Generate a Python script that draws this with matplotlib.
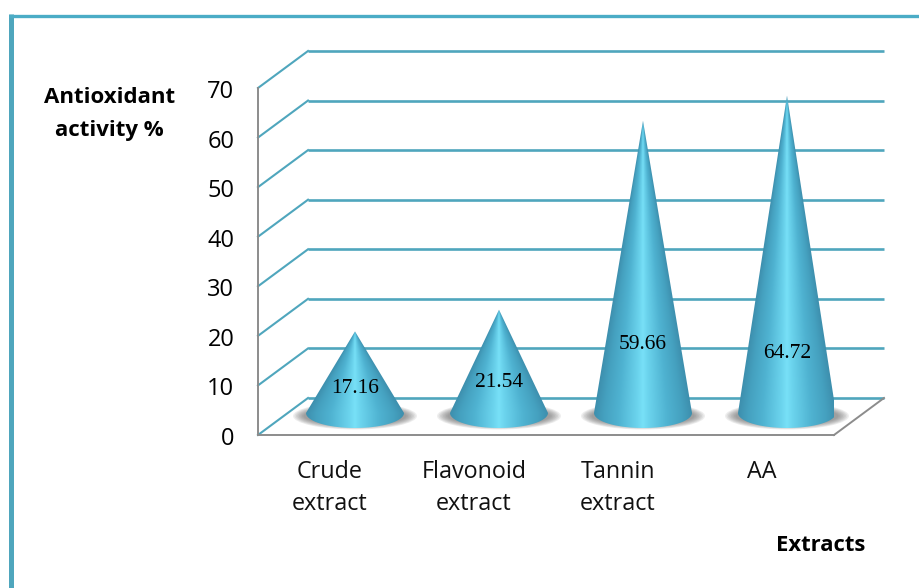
import matplotlib
matplotlib.use('Agg')
import matplotlib.pyplot as plt
import numpy as np
from matplotlib.patches import Ellipse, PathPatch
from matplotlib.path import Path
from matplotlib.lines import Line2D
from matplotlib.transforms import ScaledTranslation

categories = ['Crude\nextract', 'Flavonoid\nextract', 'Tannin\nextract', 'AA']
values = [17.16, 21.54, 59.66, 64.72]
y_ticks = [0, 10, 20, 30, 40, 50, 60, 70]

W, H = 920, 588
TEAL = '#4fa6bd'
GREY = '#8c8c8c'

fig = plt.figure(figsize=(W / 100, H / 100), dpi=100)
plt.rcParams['font.family'] = ['Open Sans', 'DejaVu Sans']

# front plane of the fake 3d box, in pixels
left, right, bottom, top = 258, 834, 435, 88
ax = fig.add_axes([left / W, 1 - bottom / H, (right - left) / W, (bottom - top) / H])
x_per_px = 4 / (right - left)
y_per_px = 70 / (bottom - top)
depth_x = 50 * x_per_px
depth_y = 37 * y_per_px

# back wall gridlines and the slanted bits on the side wall
for v in y_ticks:
    ax.plot([-0.5 + depth_x, 3.5 + depth_x], [v + depth_y, v + depth_y], c=TEAL, lw=1.9,
            clip_on=False, zorder=1, solid_capstyle='butt')
    ax.plot([-0.5, -0.5 + depth_x], [v, v + depth_y], c=TEAL, lw=1.5,
            clip_on=False, zorder=1)

# floor edge on the right
ax.plot([3.5, 3.5 + depth_x], [0, depth_y], c=GREY, lw=1.4, clip_on=False, zorder=1)

half_w = 49 * x_per_px
half_h = 15 * y_per_px
base = 22 * y_per_px
stops = np.array([0, 0.12, 0.5, 0.8, 1.0])
stop_cols = np.array([[0.47, 0.88, 0.97], [0.42, 0.83, 0.93], [0.31, 0.70, 0.82],
                      [0.27, 0.63, 0.75], [0.24, 0.56, 0.68]])


def cone_shading(height):
    # colour hangs on the position across the cone, so the bands run to the apex
    yy = np.linspace(base - half_h, height, 300)
    frac = np.clip((height - yy) / (height - base), 0.004, 1)
    uu = np.linspace(-1, 1, 200)
    u = np.abs(uu[None, :] / frac[:, None])
    u = np.clip(u, 0, 1)
    return np.dstack([np.interp(u, stops, stop_cols[:, c]) for c in range(3)])


for i, v in enumerate(values):
    cx = i + depth_x / 2
    apex = v + depth_y / 2
    # soft shadow under the cone
    for k in range(8):
        ax.add_patch(Ellipse((cx, 19 * y_per_px), (124 - 3 * k) * x_per_px, (27 - 1.3 * k) * y_per_px,
                             fc='#666666', ec='none', alpha=0.11, zorder=2, clip_on=False))
    # cone outline = triangle on top of half ellipse
    t = np.linspace(np.pi, 2 * np.pi, 40)
    xs = list(cx + half_w * np.cos(t)) + [cx]
    ys = list(base + half_h * np.sin(t)) + [apex]
    verts = list(zip(xs, ys)) + [(xs[0], ys[0])]
    codes = [Path.MOVETO] + [Path.LINETO] * (len(verts) - 2) + [Path.CLOSEPOLY]
    clip = PathPatch(Path(verts, codes), fc='none', ec='none', transform=ax.transData)
    ax.add_patch(clip)
    im = ax.imshow(cone_shading(apex), extent=[cx - half_w, cx + half_w, base - half_h, apex],
                   origin='lower', aspect='auto', zorder=3, interpolation='bilinear')
    im.set_clip_path(clip)

ax.set_xlim(-0.5, 3.5)
ax.set_ylim(0, 70)

# value labels sit on the cones
label_y = [9.3, 10.5, 18.2, 16.5]
for i, v in enumerate(values):
    ax.text(i + depth_x / 2, label_y[i], f'{v:.2f}', ha='center', va='center',
            family='Liberation Serif', fontsize=15.5, color='black', zorder=5)

ax.set_xticks(range(4))
ax.set_xticklabels(categories, fontsize=16.8, linespacing=1.46, color='#111111')
ax.set_yticks(y_ticks)
ax.tick_params(axis='y', length=0, pad=17, labelsize=17)
ax.tick_params(axis='x', length=0, pad=18)
nudge = ScaledTranslation(0, -1 / 100, fig.dpi_scale_trans)
for lab in ax.get_yticklabels():
    lab.set_transform(lab.get_transform() + nudge)
for s in ['top', 'right']:
    ax.spines[s].set_visible(False)
for s in ['left', 'bottom']:
    ax.spines[s].set_color(GREY)
    ax.spines[s].set_linewidth(1.4)
ax.patch.set_alpha(0)

fig.text(109.5 / W, 1 - 114 / H, 'Antioxidant\nactivity %', ha='center', va='center',
         fontsize=16, fontweight='bold', family='Open Sans', linespacing=1.7)
fig.text(821 / W, 1 - 545.5 / H, 'Extracts', ha='center', va='center',
         fontsize=15.8, fontweight='bold', family='Open Sans')

# frame round the picture, open at the right and the bottom
fig.add_artist(Line2D([11 / W, 11 / W], [0, 1 - 14 / H], c=TEAL, lw=3.6, solid_capstyle='butt'))
fig.add_artist(Line2D([8.5 / W, 1], [1 - 15.6 / H, 1 - 15.6 / H], c='#4bacc6', lw=2.4, solid_capstyle='butt'))

fig.savefig('out.png', dpi=100)
